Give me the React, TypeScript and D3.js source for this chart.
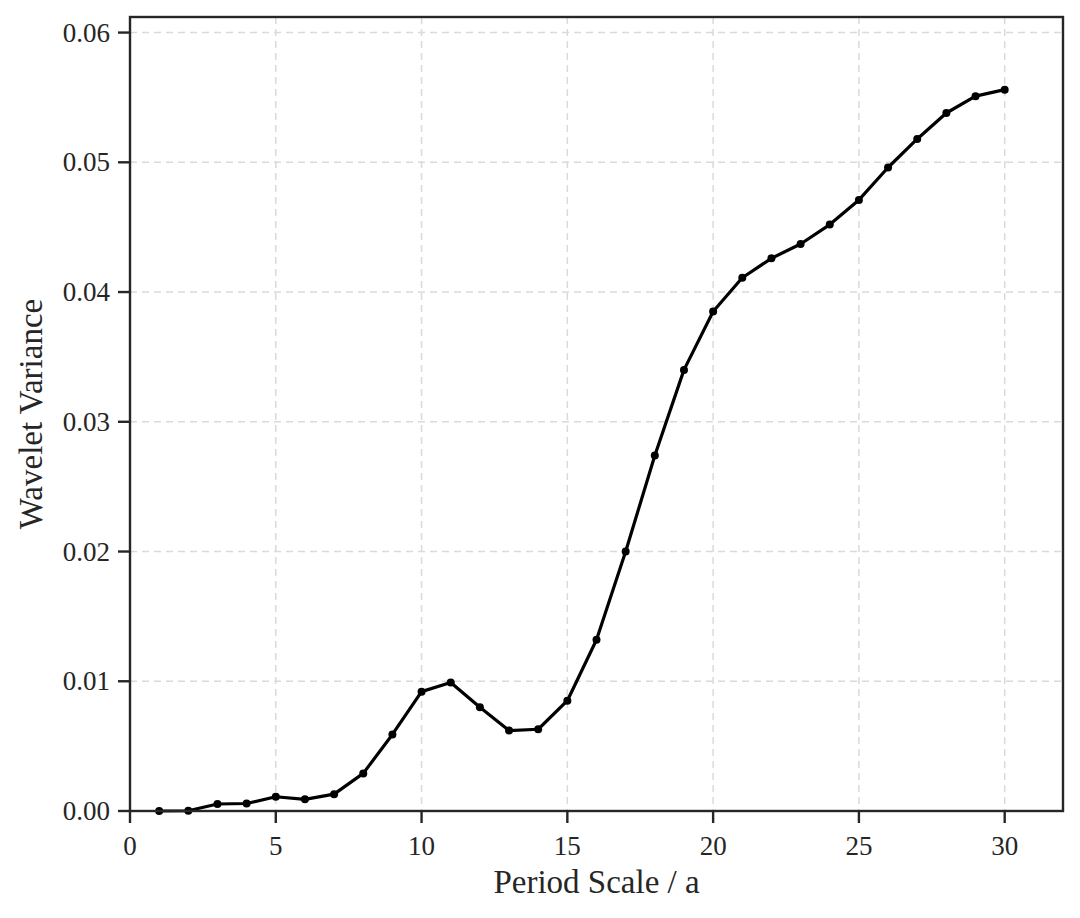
import React from "react";
import * as d3 from "d3";

const scales = [1,2,3,4,5,6,7,8,9,10,11,12,13,14,15,16,17,18,19,20,21,22,23,24,25,26,27,28,29,30];
const variance = [0.0,0.00002,0.00054,0.00058,0.0011,0.0009,0.0013,0.0029,0.0059,0.0092,0.0099,0.0080,0.0062,0.0063,0.0085,0.0132,0.0200,0.0274,0.0340,0.0385,0.0411,0.0426,0.0437,0.0452,0.0471,0.0496,0.0518,0.0538,0.0551,0.0556];
const xTicks = [0,5,10,15,20,25,30];
const yTicks = [0,0.01,0.02,0.03,0.04,0.05,0.06];

const W = 1080, H = 918;
const L = 130, R = 1063, T = 17, B = 811;

export default function App() {
  const x = d3.scaleLinear().domain([0, 32]).range([L, R]);
  const y = d3.scaleLinear().domain([0, 0.0612]).range([B, T]);
  const line = d3.line<number>().x((_, i) => x(scales[i])).y((d) => y(d));
  const font = "'Liberation Serif', 'Times New Roman', serif";
  const axisColor = "#262626";
  return (
    <svg width={W} height={H} style={{ position: "absolute", left: 0, top: 0, background: "#fff" }} fontFamily={font}>
      {xTicks.map((t) => (
        <line key={"gx" + t} x1={x(t)} x2={x(t)} y1={T} y2={B} stroke="#dadada" strokeWidth={1.5} strokeDasharray="7,5" />
      ))}
      {yTicks.map((t) => (
        <line key={"gy" + t} x1={L} x2={R} y1={y(t)} y2={y(t)} stroke="#dadada" strokeWidth={1.5} strokeDasharray="7,5" />
      ))}
      <path d={line(variance) || ""} fill="none" stroke="#000" strokeWidth={3.2} strokeLinejoin="round" />
      {variance.map((v, i) => (
        <circle key={i} cx={x(scales[i])} cy={y(v)} r={4} fill="#000" />
      ))}
      <rect x={L} y={T} width={R - L} height={B - T} fill="none" stroke={axisColor} strokeWidth={2.4} />
      {xTicks.map((t) => (
        <g key={"tx" + t}>
          <line x1={x(t)} x2={x(t)} y1={B} y2={B + 12} stroke={axisColor} strokeWidth={2.4} />
          <text x={x(t)} y={855} textAnchor="middle" fontSize={27} fill={axisColor}>{t}</text>
        </g>
      ))}
      {yTicks.map((t) => (
        <g key={"ty" + t}>
          <line x1={L - 12} x2={L} y1={y(t)} y2={y(t)} stroke={axisColor} strokeWidth={2.4} />
          <text x={L - 20} y={y(t) + 9} textAnchor="end" fontSize={27} fill={axisColor}>{t.toFixed(2)}</text>
        </g>
      ))}
      <text x={(L + R) / 2} y={893} textAnchor="middle" fontSize={33} fill={axisColor}>Period Scale / a</text>
      <text transform={`translate(42, ${(T + B) / 2}) rotate(-90)`} textAnchor="middle" fontSize={33} fill={axisColor}>Wavelet Variance</text>
    </svg>
  );
}
